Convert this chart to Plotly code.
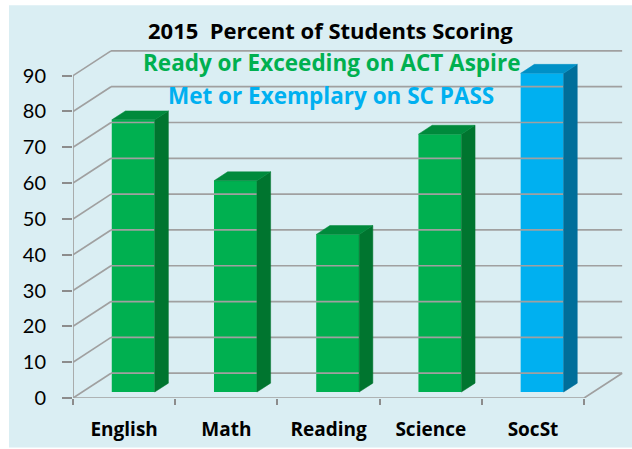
import plotly.graph_objects as go

# ---- data ----
categories = ["English", "Math", "Reading", "Science", "SocSt"]
values = [76, 59, 44, 72, 89]
front_colors = ["#00B050", "#00B050", "#00B050", "#00B050", "#00B0F0"]
side_colors = ["#00752F", "#00752F", "#00752F", "#00752F", "#006E9A"]
top_colors = ["#008A3C", "#008A3C", "#008A3C", "#008A3C", "#0090C6"]
y_ticks = [0, 10, 20, 30, 40, 50, 60, 70, 80, 90]
title_lines = ["2015\u00a0 Percent of Students Scoring",
               "Ready or Exceeding on ACT Aspire",
               "Met or Exemplary on SC PASS"]

# ---- 3D projection parameters (in axis units) ----
DX = 0.372   # depth shift along x
DY = 6.92    # depth shift along y
D0, D1 = 0.24, 0.60   # bar depth start / end (fraction of wall depth)
BW = 0.42    # bar width
n = len(categories)
GRID = "#A0A0A0"

fig = go.Figure()

# back wall gridlines
for v in y_ticks:
    fig.add_trace(go.Scatter(x=[-0.5 + DX, n - 0.5 + DX], y=[v + DY, v + DY], mode="lines",
                             line=dict(color=GRID, width=1.7), hoverinfo="skip", showlegend=False))
    # left wall diagonals
    fig.add_trace(go.Scatter(x=[-0.5, -0.5 + DX], y=[v, v + DY], mode="lines",
                             line=dict(color=GRID, width=1.7), hoverinfo="skip", showlegend=False))
# floor front edge and right edge
fig.add_trace(go.Scatter(x=[-0.5, n - 0.5, n - 0.5 + DX], y=[0, 0, DY], mode="lines",
                         line=dict(color=GRID, width=1.7), hoverinfo="skip", showlegend=False))
# front vertical axis line
fig.add_trace(go.Scatter(x=[-0.5, -0.5], y=[0, y_ticks[-1]], mode="lines",
                         line=dict(color=GRID, width=1.7), hoverinfo="skip", showlegend=False))

# bars: front faces
fig.add_trace(go.Bar(
    x=[i + D0 * DX for i in range(n)], y=values, base=[D0 * DY] * n, width=BW,
    marker=dict(color=front_colors, line=dict(width=0)), hoverinfo="skip", showlegend=False))

# side and top faces
dd = D1 - D0
for i, v in enumerate(values):
    xl = i + D0 * DX - BW / 2
    xr = i + D0 * DX + BW / 2
    b0 = D0 * DY
    tp = b0 + v
    fig.add_trace(go.Scatter(
        x=[xr, xr + dd * DX, xr + dd * DX, xr, xr],
        y=[b0, b0 + dd * DY, tp + dd * DY, tp, b0],
        mode="lines", fill="toself", fillcolor=side_colors[i],
        line=dict(color=side_colors[i], width=0.5), hoverinfo="skip", showlegend=False))
    fig.add_trace(go.Scatter(
        x=[xl, xr, xr + dd * DX, xl + dd * DX, xl],
        y=[tp, tp, tp + dd * DY, tp + dd * DY, tp],
        mode="lines", fill="toself", fillcolor=top_colors[i],
        line=dict(color=top_colors[i], width=0.5), hoverinfo="skip", showlegend=False))

W, H = 632, 449
L, R, T, B = 73, 7, 47, 48
pw, ph = W - L - R, H - T - B

def px(xp):
    return (xp - L) / pw

def py(yp):
    return (H - B - yp) / ph

# background panel
fig.add_shape(type="rect", xref="paper", yref="paper", layer="below",
              x0=px(9), x1=px(634), y0=py(5), y1=py(451),
              fillcolor="#DAEEF3", line=dict(width=0))

title_colors = ["#000000", "#00B050", "#00B0F0"]
title_y = [30, 63, 96]
title_x = [330, 331, 331]
title_sizes = [22, 22.5, 22.5]
for t, c, yy, xx, fs in zip(title_lines, title_colors, title_y, title_x, title_sizes):
    fig.add_annotation(text=f"<b>{t}</b>", xref="paper", yref="paper", x=px(xx), y=py(yy),
                       xanchor="center", yanchor="middle", showarrow=False,
                       font=dict(family="Open Sans", size=fs, color=c))

fig.update_layout(
    width=W, height=H, margin=dict(l=L, r=R, t=T, b=B),
    paper_bgcolor="white", plot_bgcolor="rgba(0,0,0,0)",
    barmode="overlay",
    xaxis=dict(range=[-0.5, n - 0.5 + 0.4], tickvals=list(range(n)),
               ticktext=[f"<b>{c}</b>" for c in categories],
               showgrid=False, zeroline=False, showline=False,
               ticks="outside", ticklen=6, tickcolor="rgba(0,0,0,0)",
               ticklabelstandoff=8,
               tickfont=dict(family="Open Sans", size=19, color="black"),
               minor=dict(tickvals=[i - 0.5 for i in range(n + 1)], ticks="outside",
                          ticklen=6, tickcolor="#8C8C8C", tickwidth=2, showgrid=False)),
    yaxis=dict(range=[0, 98], tickvals=y_ticks, showgrid=False, zeroline=False, showline=False,
               ticks="outside", ticklen=10, tickcolor="#8C8C8C", tickwidth=2,
               ticklabelstandoff=12,
               tickfont=dict(family="Lato", size=20, color="black")),
)

fig.write_html("out.html", config={"displayModeBar": False},
               post_script="document.body.style.margin='0';document.body.style.padding='0';")
